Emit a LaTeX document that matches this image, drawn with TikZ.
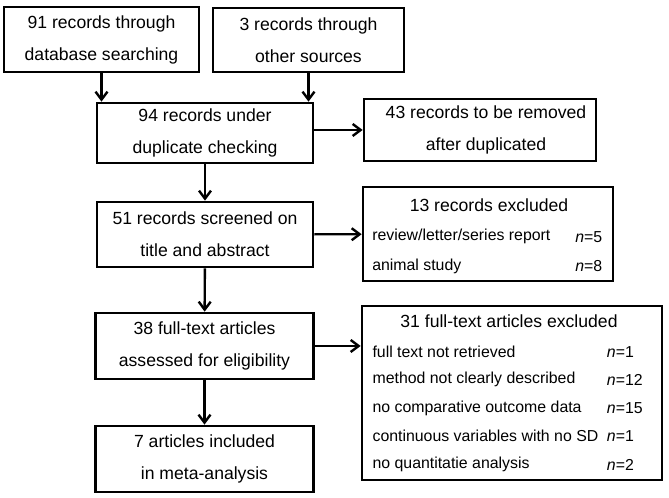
\documentclass[tikz,border=0pt]{standalone}
\usepackage{fontspec}
\setmainfont{Liberation Sans}
\usetikzlibrary{arrows.meta}

\newcommand{\mainsize}{\fontsize{13.2pt}{24pt}\selectfont}
\newcommand{\smallsize}{\fontsize{11.9pt}{14pt}\selectfont}

\tikzset{
    box/.style={draw, line width=2pt, align=center, inner sep=0pt, font=\mainsize},
    boxsize/.style 2 args={minimum width=#1*0.75pt, minimum height=#2*0.75pt},
    flow/.style={line width=1.8pt, -{Straight Barb[length=6pt,width=9pt]}},
    item/.style={anchor=west, inner sep=0pt, font=\smallsize},
    head/.style={inner sep=0pt, font=\mainsize},
}

\begin{document}
\begin{tikzpicture}[x=0.75pt,y=-0.75pt]
        \useasboundingbox (0,0) rectangle (669,498);
        % Sources
        \node[box, boxsize={195}{65}] (db) at (101.5,39.5) {91 records through\\database searching};
        \node[box, boxsize={191}{64}] (oth) at (308.5,40) {3 records through\\other sources};
        % Main column
        \node[box, boxsize={216}{60}] (dup) at (205,133) {94 records under\\duplicate checking};
        \node[box, boxsize={216}{65}] (scr) at (205,234.5) {51 records screened on\\title and abstract};
        \node[box, boxsize={218}{66}] (elig) at (204.5,346) {38 full-text articles\\assessed for eligibility};
        \node[box, boxsize={218}{66}] (incl) at (204.5,459) {7 articles included\\in meta-analysis};
        % Right column
        \node[box, boxsize={232}{62}] (rem) at (480,130) {\hspace{9pt}43 records to be removed\\\hspace{9pt}after duplicated};
        \node[box, boxsize={250}{94}] (exa) at (488,234) {};
        \node[box, boxsize={300}{174}] (exb) at (512,393) {};
        % Box of 13 excluded
        \node[head] (exahead) at (489,205) {13 records excluded};
        \node[item] (exa1) at (372,236.7) {review/letter/series report};
        \node[item] (exan1) at (575,236.7) {\textit{n}=5};
        \node[item] (exa2) at (372,266) {animal study};
        \node[item] (exan2) at (575,266) {\textit{n}=8};
        % Box of 31 excluded
        \node[head] (exbhead) at (509,321.7) {31 full-text articles excluded};
        \foreach \txt/\num [count=\k] in {full text not retrieved/1, method not clearly described/12,
                no comparative outcome data/15, continuous variables with no SD/1, no quantitatie analysis/2} {
            \node[item] (exb\k) at (372.3,323.5+28.2*\k) {\txt};
            \node[item] (exbn\k) at (606.7,323.5+28.2*\k) {\textit{n}=\num};
        }
        % Connectors
        \draw[flow] (db) -- (db |- dup.north);
        \draw[flow] (oth) -- (oth |- dup.north);
        \draw[flow] (dup.east |- rem) -- (rem);
        \draw[flow] (dup) -- (scr);
        \draw[flow] (scr) -- (exa);
        \draw[flow] (scr) -- (elig);
        \draw[flow] (elig.east) -- (elig.east -| exb.west);
        \draw[flow] (elig) -- (incl);
    \end{tikzpicture}
\end{document}
